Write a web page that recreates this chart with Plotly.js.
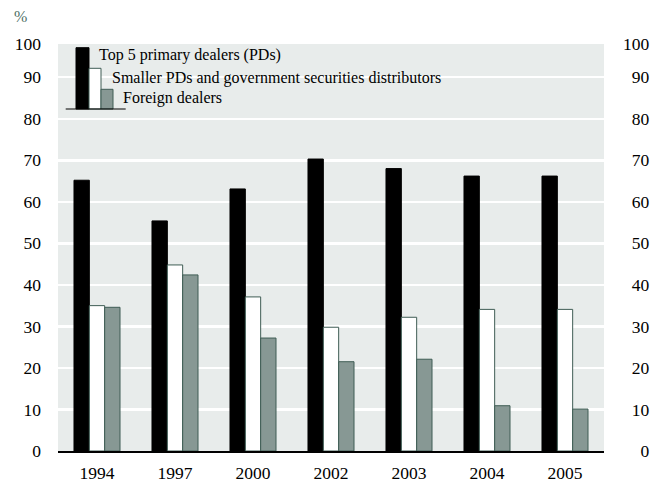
<!DOCTYPE html>
<html>
<head>
<meta charset="utf-8">
<script src="https://cdn.plot.ly/plotly-3.0.1.min.js"></script>
<style>html,body{margin:0;padding:0;background:#fff;}#chart{width:662px;height:487px;}</style>
</head>
<body>
<div id="chart"></div>
<script>
// ---- data ----
const years = ['1994', '1997', '2000', '2002', '2003', '2004', '2005'];
const top5 = [65.2, 55.4, 63.1, 70.3, 68.0, 66.2, 66.2];
const smallerPDs = [35.0, 44.8, 37.1, 29.8, 32.2, 34.1, 34.1];
const foreign = [34.6, 42.4, 27.2, 21.5, 22.1, 10.9, 10.1];
const seriesNames = ['Top 5 primary dealers (PDs)', 'Smaller PDs and government securities distributors', 'Foreign dealers'];
const tickValues = [0, 10, 20, 30, 40, 50, 60, 70, 80, 90, 98];
const tickLabels = ['0', '10', '20', '30', '40', '50', '60', '70', '80', '90', '100'];

// ---- layout helpers ----
const W = 662, H = 487;
const M = {l: 58, r: 58, t: 44, b: 36};
const PW = W - M.l - M.r, PH = H - M.t - M.b;
const fx = px => (px - M.l) / PW;
const fy = py => (H - M.b - py) / PH;

const FONT = "'Liberation Serif', 'Times New Roman', serif";
const edge = '#3f5d55';
const grayFill = '#879894';

const traces = [
  {type: 'bar', x: years, y: top5, name: seriesNames[0], marker: {color: '#000', line: {color: '#000', width: 1}}, hoverinfo: 'skip'},
  {type: 'bar', x: years, y: smallerPDs, name: seriesNames[1], marker: {color: '#fff', line: {color: edge, width: 1}}, hoverinfo: 'skip'},
  {type: 'bar', x: years, y: foreign, name: seriesNames[2], marker: {color: grayFill, line: {color: edge, width: 1}}, hoverinfo: 'skip'},
  // carrier for the right-hand duplicate axis (draws nothing)
  {type: 'scatter', mode: 'none', x: years, y: top5, yaxis: 'y2', hoverinfo: 'skip', showlegend: false}
];

const rightLabels = tickLabels.map(t => t.padStart(3, '\u2007'));

const legendShapes = [
  {type: 'rect', xref: 'paper', yref: 'paper', x0: fx(76), x1: fx(89), y0: fy(109), y1: fy(47.7), fillcolor: '#000', line: {color: '#000', width: 1}},
  {type: 'rect', xref: 'paper', yref: 'paper', x0: fx(89), x1: fx(101), y0: fy(109), y1: fy(68.3), fillcolor: '#fff', line: {color: edge, width: 1}},
  {type: 'rect', xref: 'paper', yref: 'paper', x0: fx(101), x1: fx(113), y0: fy(109), y1: fy(89.3), fillcolor: grayFill, line: {color: edge, width: 1}},
  {type: 'line', xref: 'paper', yref: 'paper', x0: fx(65.7), x1: fx(125.7), y0: fy(109), y1: fy(109), line: {color: '#000', width: 1}}
];

const legendText = [
  {text: seriesNames[0], x: fx(97), y: fy(55)},
  {text: seriesNames[1], x: fx(110), y: fy(77.7)},
  {text: seriesNames[2], x: fx(121), y: fy(97.7)}
].map(a => Object.assign({xref: 'paper', yref: 'paper', xanchor: 'left', yanchor: 'middle', showarrow: false, font: {family: FONT, size: 16, color: '#000'}}, a));

const tf = {family: FONT, size: 17.5, color: '#000'};

const layout = {
  width: W, height: H,
  margin: M,
  paper_bgcolor: '#fff',
  plot_bgcolor: '#e8eceb',
  barmode: 'group',
  bargap: 0.41,
  bargroupgap: 0,
  showlegend: false,
  font: {family: FONT, size: 17, color: '#000'},
  xaxis: {
    type: 'category', showgrid: false, showline: true, linecolor: '#000', linewidth: 1.5,
    ticks: '', tickfont: tf, ticklabelstandoff: 5, fixedrange: true
  },
  yaxis: {
    range: [0, 98], tickmode: 'array', tickvals: tickValues, ticktext: tickLabels,
    showgrid: true, gridcolor: '#fff', gridwidth: 2.5, zeroline: false, showline: false,
    ticks: '', ticklabelstandoff: 16, tickfont: tf, fixedrange: true
  },
  yaxis2: {
    overlaying: 'y', side: 'right', range: [0, 98], tickmode: 'array', tickvals: tickValues, ticktext: rightLabels,
    showgrid: false, zeroline: false, showline: false, ticks: '', ticklabelstandoff: 18,
    tickfont: tf, fixedrange: true
  },
  shapes: legendShapes,
  annotations: legendText.concat([
    {text: '%', xref: 'paper', yref: 'paper', x: fx(12), y: fy(16), xanchor: 'left', yanchor: 'middle', showarrow: false, font: {family: FONT, size: 16, color: '#4f6f66'}}
  ])
};

Plotly.newPlot('chart', traces, layout, {displayModeBar: false, staticPlot: true});
</script>
</body>
</html>
